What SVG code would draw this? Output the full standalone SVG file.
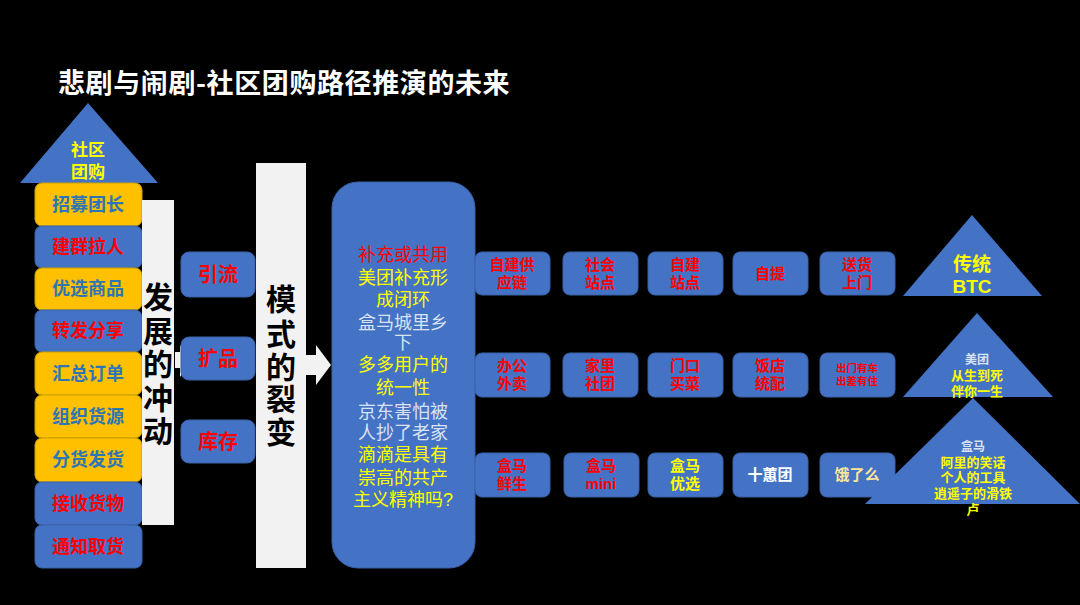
<svg xmlns="http://www.w3.org/2000/svg" width="1080" height="605" viewBox="0 0 1080 605">
<style>
text{font-family:"Liberation Sans","Noto Sans CJK SC",sans-serif;text-anchor:middle;}
.b{font-weight:bold;}
.blue{fill:#4472C4;stroke:#3A62A8;stroke-width:1;}
.org{fill:#FFC000;stroke:#C9A000;stroke-width:1;}
.pan{fill:#F2F2F2;}
.tb{fill:#2E75B6;font-size:18px;font-weight:bold;}
.tr{fill:#FF0000;font-size:18px;font-weight:bold;}
.rt{font-size:15px;font-weight:bold;}
.red{fill:#FF0000;}
.yel{fill:#FFFF00;}
.wht{fill:#FFFFFF;}
.lt{fill:#DAE3F3;}
.big{font-size:30px;font-weight:bold;fill:#000000;}
.mid{font-size:18px;}
</style>
<rect width="1080" height="605" fill="#000000"/>
<text x="58" y="93" class="b wht" style="text-anchor:start;font-size:27px;letter-spacing:0.6px;font-family:'Noto Sans CJK SC',sans-serif">悲剧与闹剧-社区团购路径推演的未来</text>

<g id="top-triangle">
<polygon points="88,103 20,183 158,183" fill="#4472C4"/>
<text x="88" y="156" class="b yel" style="font-size:17px">社区</text>
<text x="88" y="178" class="b yel" style="font-size:17px">团购</text>
</g>

<g id="steps">
<g id="s1"><rect x="35" y="183" width="107" height="43" rx="7" class="org"/><text x="88" y="211" class="tb">招募团长</text></g>
<g id="s2"><rect x="35" y="226" width="107" height="42" rx="7" class="blue"/><text x="88" y="253" class="tr">建群拉人</text></g>
<g id="s3"><rect x="35" y="268" width="107" height="42" rx="7" class="org"/><text x="88" y="295" class="tb">优选商品</text></g>
<g id="s4"><rect x="35" y="310" width="107" height="42" rx="7" class="blue"/><text x="88" y="337" class="tr">转发分享</text></g>
<g id="s5"><rect x="35" y="352" width="107" height="43" rx="7" class="org"/><text x="88" y="380" class="tb">汇总订单</text></g>
<g id="s6"><rect x="35" y="395" width="107" height="43" rx="7" class="org"/><text x="88" y="423" class="tb">组织货源</text></g>
<g id="s7"><rect x="35" y="438" width="107" height="44" rx="7" class="org"/><text x="88" y="466" class="tb">分货发货</text></g>
<g id="s8"><rect x="35" y="482" width="107" height="43" rx="7" class="blue"/><text x="88" y="510" class="tr">接收货物</text></g>
<g id="s9"><rect x="35" y="525" width="107" height="43" rx="7" class="blue"/><text x="88" y="553" class="tr">通知取货</text></g>
</g>

<g id="panel-1">
<rect x="142" y="200" width="32" height="325" class="pan"/>
<text x="158" y="308" class="big">发</text>
<text x="158" y="342" class="big">展</text>
<text x="158" y="375" class="big">的</text>
<text x="158" y="409" class="big">冲</text>
<text x="158" y="442" class="big">动</text>
</g>

<g id="connectors">
<polygon points="175,352 180,352 180,345 190,361 180,377 180,368 175,368" fill="#F2F2F2"/>
<polygon points="306,355 316,355 316,345 331,365 316,385 316,375 306,375" fill="#F2F2F2"/>
</g>

<g id="drivers">
<g id="d1"><rect x="181" y="252" width="74" height="45" rx="8" class="blue"/><text x="218" y="282" class="b red" style="font-size:20px">引流</text></g>
<g id="d2"><rect x="181" y="337" width="74" height="43" rx="8" class="blue"/><text x="218" y="366" class="b red" style="font-size:20px">扩品</text></g>
<g id="d3"><rect x="181" y="420" width="74" height="43" rx="8" class="blue"/><text x="218" y="449" class="b red" style="font-size:20px">库存</text></g>
</g>

<g id="panel-2">
<rect x="256" y="163" width="50" height="405" class="pan"/>
<text x="281" y="310" class="big">模</text>
<text x="281" y="345" class="big">式</text>
<text x="281" y="378" class="big">的</text>
<text x="281" y="410" class="big">裂</text>
<text x="281" y="443" class="big">变</text>
</g>

<g id="big-box">
<rect x="332" y="182" width="143" height="386" rx="26" fill="#4472C4" stroke="#3A62A8"/>
<text x="403" y="261" class="mid red">补充或共用</text>
<text x="403" y="284" class="mid yel">美团补充形</text>
<text x="403" y="306" class="mid yel">成闭环</text>
<text x="403" y="329" class="mid lt">盒马城里乡</text>
<text x="403" y="349" class="mid lt">下</text>
<text x="403" y="371" class="mid yel">多多用户的</text>
<text x="403" y="394" class="mid yel">统一性</text>
<text x="403" y="418" class="mid lt">京东害怕被</text>
<text x="403" y="439" class="mid lt">人抄了老家</text>
<text x="403" y="461" class="mid yel">滴滴是具有</text>
<text x="403" y="484" class="mid yel">崇高的共产</text>
<text x="403" y="506" class="mid yel">主义精神吗?</text>
</g>

<g id="row-1">
<g id="r1c1"><rect x="475" y="252" width="75" height="43" rx="7" class="blue"/><text x="512" y="270" class="rt red">自建供</text><text x="512" y="288" class="rt red">应链</text></g>
<g id="r1c2"><rect x="563" y="252" width="75" height="43" rx="7" class="blue"/><text x="600" y="270" class="rt red">社会</text><text x="600" y="288" class="rt red">站点</text></g>
<g id="r1c3"><rect x="648" y="252" width="75" height="43" rx="7" class="blue"/><text x="685" y="270" class="rt red">自建</text><text x="685" y="288" class="rt red">站点</text></g>
<g id="r1c4"><rect x="733" y="252" width="75" height="43" rx="7" class="blue"/><text x="770" y="279" class="rt red">自提</text></g>
<g id="r1c5"><rect x="820" y="252" width="75" height="43" rx="7" class="blue"/><text x="857" y="270" class="rt red">送货</text><text x="857" y="288" class="rt red">上门</text></g>
</g>

<g id="row-2">
<g id="r2c1"><rect x="475" y="353" width="75" height="44" rx="7" class="blue"/><text x="512" y="371" class="rt red">办公</text><text x="512" y="389" class="rt red">外卖</text></g>
<g id="r2c2"><rect x="563" y="353" width="75" height="44" rx="7" class="blue"/><text x="600" y="371" class="rt red">家里</text><text x="600" y="389" class="rt red">社团</text></g>
<g id="r2c3"><rect x="648" y="353" width="75" height="44" rx="7" class="blue"/><text x="685" y="371" class="rt red">门口</text><text x="685" y="389" class="rt red">买菜</text></g>
<g id="r2c4"><rect x="733" y="353" width="75" height="44" rx="7" class="blue"/><text x="770" y="371" class="rt red">饭店</text><text x="770" y="389" class="rt red">统配</text></g>
<g id="r2c5"><rect x="820" y="353" width="75" height="44" rx="7" class="blue"/><text x="857" y="372" class="b red" style="font-size:10.5px">出门有车</text><text x="857" y="385" class="b red" style="font-size:10.5px">出差有住</text></g>
</g>

<g id="row-3">
<g id="r3c1"><rect x="475" y="453" width="75" height="44" rx="7" class="blue"/><text x="512" y="471" class="rt red">盒马</text><text x="512" y="489" class="rt red">鲜生</text></g>
<g id="r3c2"><rect x="564" y="453" width="75" height="44" rx="7" class="blue"/><text x="601" y="471" class="rt red">盒马</text><text x="601" y="489" class="rt red">mini</text></g>
<g id="r3c3"><rect x="648" y="453" width="75" height="44" rx="7" class="blue"/><text x="685" y="471" class="rt yel">盒马</text><text x="685" y="489" class="rt yel">优选</text></g>
<g id="r3c4"><rect x="733" y="453" width="75" height="44" rx="7" class="blue"/><text x="770" y="480" class="rt wht">十蕙团</text></g>
<g id="r3c5"><rect x="820" y="453" width="75" height="44" rx="7" class="blue"/><text x="857" y="480" class="rt" style="fill:#FFE699">饿了么</text></g>
</g>

<g id="tri-1">
<polygon points="972,215 903,296 1042,296" fill="#4472C4"/>
<text x="972" y="271" class="b yel" style="font-size:19px">传统</text>
<text x="972" y="293" class="b yel" style="font-size:19px">BTC</text>
</g>
<g id="tri-2">
<polygon points="977,313 903,397 1053,397" fill="#4472C4"/>
<text x="977" y="364" class="b lt" style="font-size:12px">美团</text>
<text x="977" y="380" class="b yel" style="font-size:13px">从生到死</text>
<text x="977" y="396" class="b yel" style="font-size:13px">伴你一生</text>
</g>
<g id="tri-3">
<polygon points="973,398 865,504 1080,504" fill="#4472C4"/>
<text x="973" y="451" class="b lt" style="font-size:12px">盒马</text>
<text x="973" y="467" class="b yel" style="font-size:13px">阿里的笑话</text>
<text x="973" y="482" class="b yel" style="font-size:13px">个人的工具</text>
<text x="973" y="498" class="b yel" style="font-size:13px">逍遥子的滑铁</text>
<text x="973" y="514" class="b yel" style="font-size:13px">卢</text>
</g>
</svg>
